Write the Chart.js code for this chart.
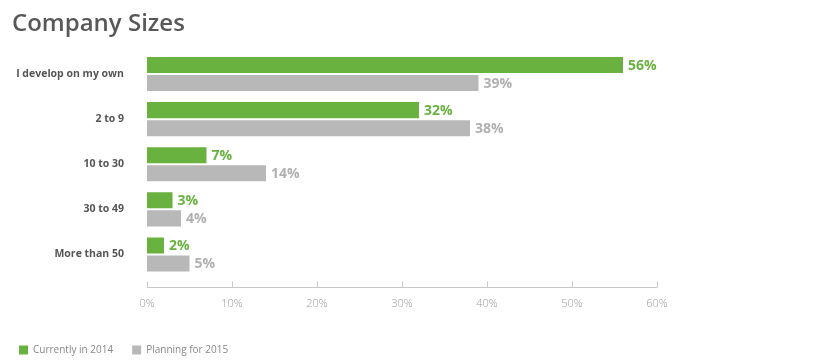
<!DOCTYPE html>
<html><head><meta charset="utf-8">
<script src="https://cdn.jsdelivr.net/npm/chart.js@4/dist/chart.umd.min.js"></script>
<style>html,body{margin:0;padding:0;background:#fff}#wrap{position:relative;width:818px;height:364px}</style>
</head><body><div id="wrap"><canvas id="c" width="818" height="364"></canvas></div>
<script>
const chartTitle = "Company Sizes";
const categories = ["I develop on my own", "2 to 9", "10 to 30", "30 to 49", "More than 50"];
const current2014 = [56, 32, 7, 3, 2];
const planning2015 = [39, 38, 14, 4, 5];
const seriesNames = ["Currently in 2014", "Planning for 2015"];
const xTicks = [0, 10, 20, 30, 40, 50, 60];

const GREEN = '#6ab23f', GRAY = '#b8b8b8';
const labelColors = ['#6ab23f', '#b0b0b0'];

const titlePlugin = {
  id: 'titlePlugin',
  afterDraw(chart) {
    const ctx = chart.ctx;
    ctx.save();
    ctx.font = '600 24px "Open Sans"';
    ctx.fillStyle = '#58585a';
    ctx.textBaseline = 'alphabetic';
    ctx.textAlign = 'left';
    ctx.fillText(chartTitle, 12, 31);
    ctx.restore();
  }
};

const valueLabels = {
  id: 'valueLabels',
  afterDatasetsDraw(chart) {
    const ctx = chart.ctx;
    ctx.save();
    ctx.font = 'bold 14px "Open Sans"';
    ctx.textBaseline = 'middle';
    ctx.textAlign = 'left';
    chart.data.datasets.forEach((ds, i) => {
      chart.getDatasetMeta(i).data.forEach((bar, j) => {
        ctx.fillStyle = labelColors[i];
        ctx.fillText(ds.data[j] + '%', bar.x + 5, bar.y + 1);
      });
    });
    ctx.restore();
  }
};

const axisLine = {
  id: 'axisLine',
  afterDraw(chart) {
    const ctx = chart.ctx, xs = chart.scales.x;
    const y = Math.round(chart.chartArea.bottom + 10) + 0.5;
    ctx.save();
    ctx.strokeStyle = '#c8c8c8';
    ctx.lineWidth = 1;
    ctx.beginPath();
    ctx.moveTo(xs.getPixelForValue(xTicks[0]), y);
    ctx.lineTo(xs.getPixelForValue(xTicks[xTicks.length - 1]), y);
    xTicks.forEach(v => {
      const px = Math.round(xs.getPixelForValue(v)) + 0.5;
      ctx.moveTo(px, y); ctx.lineTo(px, y - 6);
    });
    ctx.stroke();
    ctx.restore();
  }
};

new Chart(document.getElementById('c'), {
  type: 'bar',
  data: {
    labels: categories,
    datasets: [
      { label: seriesNames[0], data: current2014, backgroundColor: GREEN },
      { label: seriesNames[1], data: planning2015, backgroundColor: GRAY }
    ]
  },
  options: {
    indexAxis: 'y',
    responsive: false,
    animation: false,
    devicePixelRatio: 1,
    categoryPercentage: 0.8,
    barPercentage: 0.889,
    layout: { padding: { left: 0, right: 161, top: 51.5, bottom: -1 } },
    scales: {
      x: {
        min: 0, max: 60,
        afterBuildTicks(s) { s.ticks = xTicks.map(v => ({ value: v })); },
        afterFit(s) { s.height = 49; },
        grid: { display: false }, border: { display: false },
        ticks: { color: '#9a9a9a', font: { family: 'Open Sans', size: 11, weight: 300 }, padding: 12, callback: v => v + '%' }
      },
      y: {
        afterFit(s) { s.width = 147; },
        grid: { display: false, drawTicks: false }, border: { display: false },
        ticks: { color: '#555', font: { family: 'Open Sans', size: 10.5, weight: 'bold' }, padding: 23 }
      }
    },
    plugins: {
      title: { display: false },
      legend: {
        position: 'bottom', align: 'start',
        labels: { boxWidth: 9, boxHeight: 9, color: '#888', padding: 19, font: { family: 'Open Sans', size: 10 } }
      },
      tooltip: { enabled: false }
    }
  },
  plugins: [valueLabels, axisLine, titlePlugin]
});
</script></body></html>
